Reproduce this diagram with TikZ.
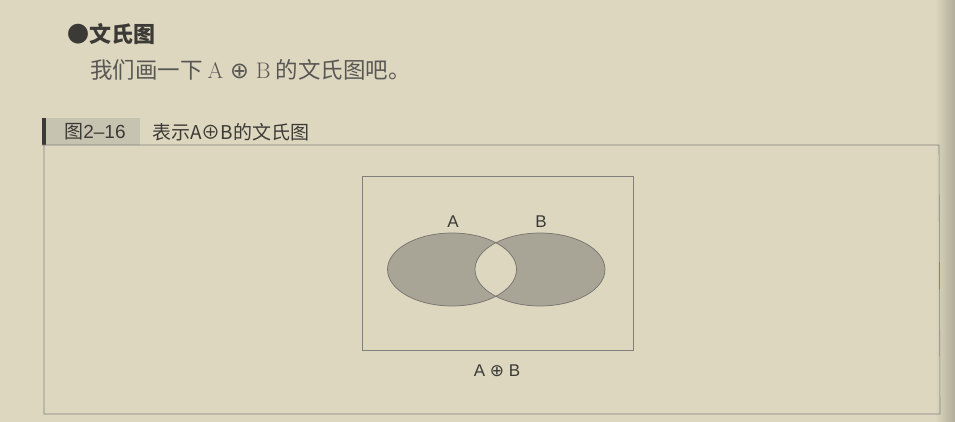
\documentclass[tikz,border=0pt]{standalone}
\usepackage{fontspec}
\usepackage{tikz}
\setsansfont{Liberation Sans}
\newfontfamily\cjk{Noto Sans CJK SC}
\newfontfamily\symb{DejaVu Sans}
\newcommand{\ringOpacity}[0]{0.9}
\newcommand{\xorSign}[0]{{\symb ⊕}}
\definecolor{paper}{HTML}{DDD7BF}
\definecolor{ink}{HTML}{3C3A36}
\definecolor{setgrey}{HTML}{A9A596}
\definecolor{tagbox}{HTML}{C7C3B1}

\begin{document}
\begin{tikzpicture}[x=1pt, y=-1pt]
  \tikzset{
    header/.style={font=\cjk\bfseries\fontsize{22}{26}\selectfont, text=ink, anchor=west, inner sep=0pt},
    body/.style={font=\cjk\fontsize{22.5}{26}\selectfont, text=ink!85, anchor=west, inner sep=0pt},
    tag/.style={font=\cjk\fontsize{19}{22}\selectfont, text=ink, inner sep=0pt},
    setname/.style={font=\sffamily\fontsize{17}{20}\selectfont, text=ink, inner sep=0pt},
    ring/.style={draw=ink!75, line width=0.7pt, opacity=\ringOpacity},
    frame/.style={draw=ink!65, line width=0.6pt}
  }
  % page
  \fill[paper] (0,0) rectangle (955,422);
  \shade[left color=paper, right color=paper!80!black] (935,0) rectangle (955,422);
  \useasboundingbox (0,0) rectangle (955,422);
  % text above the figure
  \node[header] (title) at (67,34) {●文氏图};
  \node[body] (line) at (90,70) {我们画一下 {\rmfamily A \xorSign\ B} 的文氏图吧。};
  % figure caption
  \fill[tagbox] (42,118) rectangle (140,145);
  \fill[ink] (42,118) rectangle (46,145);
  \node[tag] (fignum) at (95,132) {图{\sffamily 2--16}};
  \node[tag, anchor=west] (figname) at (152,132) {表示A⊕B的文氏图};
  \draw[frame] (42,145) -- (939,145) -- (940,414) -- (44,414) -- (44,145);
  % universe and the two sets
  \draw[frame] (362,176) rectangle (633,350);
  \fill[setgrey, even odd rule] (452,269.5) ellipse [x radius=64.5, y radius=36.5]
                                (540,269.5) ellipse [x radius=65, y radius=36.5];
  \draw[ring] (452,269.5) ellipse [x radius=64.5, y radius=36.5];
  \draw[ring] (540,269.5) ellipse [x radius=65, y radius=36.5];
  \node[setname] (labA) at (453,222) {A};
  \node[setname] (labB) at (541,222) {B};
  \node[setname] (labXor) at (497,371) {A \xorSign\ B};
\end{tikzpicture}
\end{document}
